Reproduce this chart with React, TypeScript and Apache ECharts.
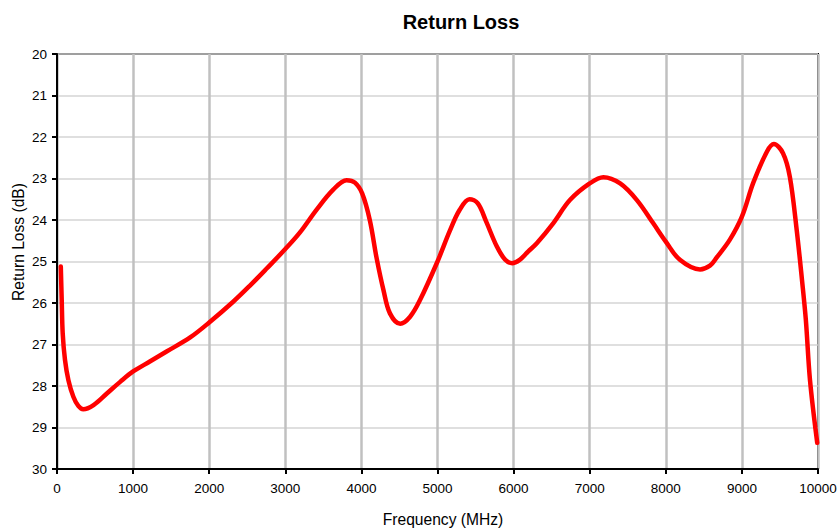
import React, { useEffect, useRef } from "react";
import * as echarts from "echarts";

const frequencies = [
  50, 62, 75, 105, 150, 215, 280, 345, 480, 655, 830, 1000, 1220, 1440, 1750,
  2000, 2315, 2536, 2755, 3000, 3193, 3412, 3630, 3805, 3915, 4010, 4110, 4200,
  4290, 4375, 4510, 4640, 4770, 5000, 5160, 5290, 5420, 5530, 5640, 5780, 5890,
  5980, 6080, 6190, 6305, 6520, 6740, 7000, 7180, 7400, 7620, 7835, 8000, 8185,
  8450, 8580, 8670, 8840, 9000, 9150, 9330, 9420, 9540, 9630, 9720, 9790, 9840,
  9895, 9990,
];
const returnLoss = [
  25.12, 25.93, 26.73, 27.37, 27.86, 28.26, 28.48, 28.56, 28.46, 28.18, 27.9,
  27.65, 27.41, 27.17, 26.83, 26.47, 25.97, 25.58, 25.17, 24.7, 24.3, 23.75,
  23.27, 23.04, 23.1, 23.36, 24.0, 24.92, 25.69, 26.25, 26.5, 26.33, 25.93, 25.0,
  24.27, 23.76, 23.5, 23.6, 24.04, 24.64, 24.96, 25.04, 24.96, 24.76, 24.56,
  24.08, 23.52, 23.12, 22.97, 23.12, 23.52, 24.08, 24.52, 24.96, 25.19, 25.1,
  24.9, 24.48, 23.92, 23.1, 22.35, 22.17, 22.39, 22.96, 24.24, 25.45, 26.4,
  27.86, 29.37,
];

const title = "Return Loss";
const xName = "Frequency (MHz)";
const yName = "Return Loss (dB)";
const xMin = 0;
const xMax = 10000;
const xStep = 1000;
const yMin = 20;
const yMax = 30;
const yStep = 1;

const FONT = "'Liberation Sans', Arial, sans-serif";

export default function App() {
  const ref = useRef<HTMLDivElement>(null);
  useEffect(() => {
    if (!ref.current) return;
    const chart = echarts.init(ref.current, null, { renderer: "svg" });
    const data = frequencies.map((f, i) => [f, returnLoss[i]]);
    chart.setOption({
      animation: false,
      backgroundColor: "#ffffff",
      title: {
        text: title,
        left: 456,
        textAlign: "center",
        top: 7,
        textStyle: {
          fontFamily: FONT,
          fontSize: 20,
          fontWeight: "bold",
          color: "#000",
        },
      },
      graphic: [
        {
          type: "text",
          x: 18,
          y: 242,
          rotation: Math.PI / 2,
          style: {
            text: yName,
            fontFamily: FONT,
            fontSize: 15.6,
            fill: "#000",
            align: "center",
            verticalAlign: "middle",
          },
        },
      ],
      grid: {
        left: 57,
        right: 20,
        top: 54,
        bottom: 62,
        show: true,
        borderColor: "#000",
        borderWidth: 2,
        backgroundColor: "#fff",
        containLabel: false,
        outerBoundsMode: "none",
      },
      xAxis: {
        type: "value",
        min: xMin,
        max: xMax,
        interval: xStep,
        name: xName,
        nameLocation: "middle",
        nameGap: 42,
        nameTextStyle: {
          fontFamily: FONT,
          fontSize: 15.6,
          color: "#000",
          padding: [0, 0, 0, 11],
        },
        axisLine: { show: true, lineStyle: { color: "#000", width: 2 } },
        axisTick: { show: true, length: 5, lineStyle: { color: "#000", width: 2 } },
        axisLabel: {
          fontFamily: FONT,
          fontSize: 13.5,
          color: "#000",
          margin: 12,
          formatter: (v: number) => String(v),
        },
        splitLine: { show: true, lineStyle: { color: "#c0c0c0", width: 2.5 } },
      },
      yAxis: {
        type: "value",
        inverse: true,
        min: yMin,
        max: yMax,
        interval: yStep,
        axisLine: { show: true, lineStyle: { color: "#000", width: 2 } },
        axisTick: { show: true, length: 5, lineStyle: { color: "#000", width: 2 } },
        axisLabel: {
          fontFamily: FONT,
          fontSize: 13.5,
          color: "#000",
          margin: 10,
          formatter: (v: number) => String(v),
        },
        splitLine: { show: true, lineStyle: { color: "#d4d4d4", width: 1.5 } },
      },
      series: [
        {
          type: "line",
          data,
          showSymbol: false,
          smooth: 0.35,
          lineStyle: { color: "#ff0000", width: 4.5, cap: "round", join: "round" },
          itemStyle: { color: "#ff0000" },
          z: 5,
        },
      ],
    });
    return () => chart.dispose();
  }, []);
  return (
    <div
      ref={ref}
      style={{ position: "fixed", left: 0, top: 0, width: 838, height: 531, background: "#fff" }}
    />
  );
}
